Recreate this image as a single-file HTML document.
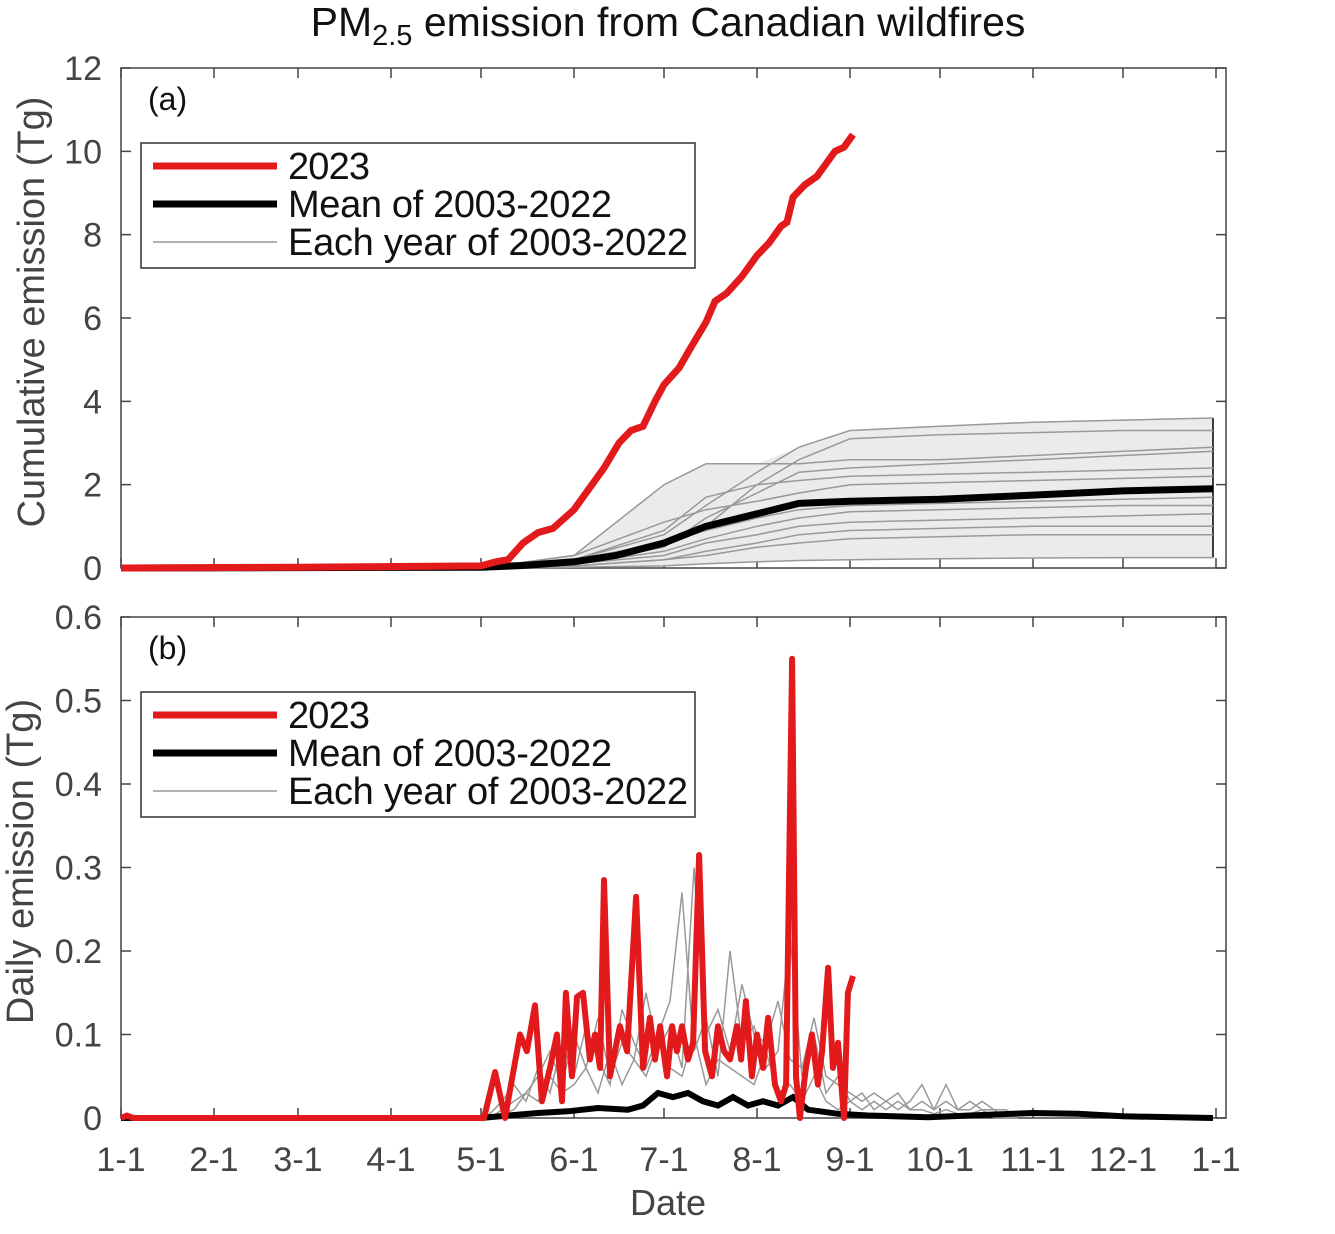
<!DOCTYPE html>
<html><head><meta charset="utf-8"><style>
body{margin:0;background:#fff;}
svg text{font-family:"Liberation Sans",Arial,sans-serif;}
</style></head><body>
<svg id="chart" width="1335" height="1229" viewBox="0 0 1335 1229" xmlns="http://www.w3.org/2000/svg">
<text x="668" y="36" text-anchor="middle" font-size="41" fill="#111">PM<tspan font-size="29" dy="9">2.5</tspan><tspan dy="-9"> emission from Canadian wildfires</tspan></text>
<g id="pa"></g>
<g id="pb"></g>
<text x="668" y="1215" text-anchor="middle" font-size="36" fill="#444">Date</text>
</svg>
<script>
const monthLabels=["1-1","2-1","3-1","4-1","5-1","6-1","7-1","8-1","9-1","10-1","11-1","12-1","1-1"];
const monthDays=[1,32,60,91,121,152,182,213,244,274,305,335,366];
const cumTicks=[0,2,4,6,8,10,12];
const dailyTicks=[0,0.1,0.2,0.3,0.4,0.5,0.6];
const dailyTickLabels=["0","0.1","0.2","0.3","0.4","0.5","0.6"];
const red23Days=[1,60,121,126,130,135,140,145,152,157,162,167,171,175,179,182,187,191,196,199,203,208,213,217,221,223,225,229,233,236,239,242,245];
const red23Cum=[0,0.02,0.05,0.15,0.2,0.6,0.85,0.95,1.4,1.9,2.4,3.0,3.3,3.4,4.0,4.4,4.8,5.3,5.9,6.4,6.6,7.0,7.5,7.8,8.2,8.3,8.9,9.2,9.4,9.7,10.0,10.1,10.4];
const meanDays=[1,121,135,152,166,182,196,213,227,244,274,305,335,365];
const meanCum=[0,0.02,0.06,0.15,0.3,0.6,1.0,1.3,1.55,1.6,1.65,1.75,1.85,1.9];
const yearDays=[1,121,152,182,196,213,227,244,274,305,335,365];
const yearCum=[
[0,0,0.2,0.8,1.5,2.3,2.9,3.3,3.4,3.5,3.55,3.6],
[0,0,0.3,2.0,2.5,2.5,2.5,2.6,2.6,2.7,2.8,2.9],
[0,0,0.2,0.6,1.0,2.0,2.6,3.1,3.2,3.25,3.3,3.3],
[0,0,0.1,0.5,1.2,1.8,2.3,2.4,2.5,2.6,2.7,2.8],
[0,0,0.2,0.9,1.7,2.0,2.1,2.2,2.25,2.3,2.35,2.4],
[0,0,0.3,1.1,1.4,1.6,1.8,2.0,2.05,2.1,2.15,2.2],
[0,0,0.1,0.6,0.9,1.2,1.4,1.5,1.55,1.6,1.65,1.7],
[0,0,0.1,0.4,0.7,1.0,1.2,1.35,1.4,1.45,1.5,1.5],
[0,0,0.1,0.3,0.6,0.8,1.0,1.1,1.15,1.2,1.25,1.3],
[0,0,0.05,0.2,0.4,0.6,0.8,0.9,0.95,1.0,1.0,1.0],
[0,0,0.05,0.2,0.3,0.5,0.6,0.7,0.75,0.8,0.8,0.8],
[0,0,0.02,0.05,0.1,0.15,0.18,0.2,0.22,0.24,0.25,0.25]];
const red23DailyDays=[1,3,5,120,122,125.7,129,134,136.3,139,141.3,144,146.3,148,149.3,151.3,153,155,157.3,159,160.7,162,164,167.3,169.7,172.7,175,177.3,179,180.7,183,184.7,186.3,188,190,191.7,193.7,195.7,198,200,202,204,206.3,207.7,209.3,211.3,213,215,216.7,219,221,222.7,224.7,226,227.3,229.3,231.3,233.3,234.7,236.7,238.3,240,242,243.3,245];
const red23Daily=[0,0.003,0,0,0,0.055,0,0.1,0.08,0.135,0.02,0.06,0.1,0.02,0.15,0.05,0.145,0.15,0.07,0.1,0.06,0.285,0.05,0.11,0.08,0.265,0.06,0.12,0.07,0.11,0.05,0.11,0.08,0.11,0.07,0.09,0.315,0.08,0.05,0.11,0.08,0.07,0.11,0.07,0.14,0.05,0.1,0.06,0.12,0.04,0.02,0.04,0.55,0.05,0,0.06,0.1,0.04,0.08,0.18,0.06,0.09,0,0.15,0.17];
const meanDailyDays=[1,121,130,140,150,160,170,175,180,185,190,195,200,205,210,215,220,225,230,240,250,270,290,305,320,335,365];
const meanDaily=[0,0,0.003,0.006,0.008,0.012,0.01,0.015,0.03,0.025,0.03,0.02,0.015,0.025,0.015,0.02,0.015,0.025,0.01,0.005,0.003,0.001,0.004,0.006,0.005,0.002,0];
const grayDailyDays=[120,124,128,132,136,140,144,148,152,156,160,164,168,172,176,180,184,188,192,196,200,204,208,212,216,220,224,228,232,236,240,244,248,252,256,260,264,268,272,276,280,284,288,292,296,300];
const grayDaily=[
[0,0,.01,.02,.03,.05,.08,.04,.1,.06,.12,.05,.09,.07,.15,.08,.11,.06,.3,.1,.13,.08,.16,.1,.09,.14,.07,.06,.12,.05,.04,.03,.02,.03,.02,.01,.02,.04,.01,.02,.01,.01,.02,.01,.01,0],
[0,.005,.02,.04,.02,.06,.03,.09,.05,.11,.07,.04,.13,.09,.06,.1,.14,.27,.08,.12,.05,.2,.09,.11,.06,.08,.22,.05,.1,.03,.05,.02,.03,.01,.02,.03,.01,.02,.01,.04,.01,.02,.01,.01,0,0],
[0,0,.005,.01,.03,.02,.05,.03,.04,.06,.03,.08,.04,.07,.05,.09,.06,.05,.1,.04,.07,.06,.05,.04,.08,.03,.04,.02,.05,.02,.01,.02,.01,.02,.01,.02,.01,.01,.005,.01,.005,.005,.01,0,0,0]];

const NS="http://www.w3.org/2000/svg";
const X0=121,X1=1226;
const xs=d=>121+(d-1)*3;
function mk(p,tag,at){const e=document.createElementNS(NS,tag);for(const k in at)e.setAttribute(k,at[k]);p.appendChild(e);return e;}
function path(xsA,ysA,sx,sy){return xsA.map((d,i)=>(i?'L':'M')+sx(d).toFixed(1)+','+sy(ysA[i]).toFixed(1)).join('');}

function panel(g,top,bot,ymax,ticks,tickLabels,label,ytitle){
  const ys=v=>bot-(v/ymax)*(bot-top);
  const frame=mk(g,'rect',{x:X0,y:top,width:X1-X0,height:bot-top,fill:'none',stroke:'#444','stroke-width':1.5});
  
  
  monthDays.forEach((d,i)=>{
    const x=xs(d);
    const t=mk(g,'path',{d:`M${x},${bot}V${bot-10}M${x},${top}V${top+10}`,stroke:'#444','stroke-width':1.5});
    
    
    if(label==='(b)'){const tx=mk(g,'text',{x:x,y:bot+53,'text-anchor':'middle','font-size':34,fill:'#444'});tx.textContent=monthLabels[i];
      
      }
  });
  ticks.forEach((v,i)=>{
    const y=ys(v);
    const t=mk(g,'path',{d:`M${X0},${y}H${X0+10}M${X1},${y}H${X1-10}`,stroke:'#444','stroke-width':1.5});
    
    
    const tx=mk(g,'text',{x:X0-19,y:y+12,'text-anchor':'end','font-size':34,fill:'#444'});tx.textContent=tickLabels[i];
    
    
  });
  const pl=mk(g,'text',{x:148,y:top+42,'font-size':32,fill:'#111'});pl.textContent=label;
  
  
  const yt=mk(g,'text',{x:0,y:0,'text-anchor':'middle','font-size':38,fill:'#444',transform:`translate(${label==='(a)'?44:33},${(top+bot)/2-6}) rotate(-90)`});yt.textContent=ytitle;
  
  
  return ys;
}
function legend(g,y){
  const lg=mk(g,'g',{});
  
  
  mk(lg,'rect',{x:141,y:y,width:554,height:125,fill:'#fff',stroke:'#333','stroke-width':1.5});
  const items=[['2023','#e31a1c',7],['Mean of 2003-2022','#000',7],['Each year of 2003-2022','#999',1.5]];
  items.forEach((it,i)=>{
    const cy=y+23+i*38;
    const ln=mk(lg,'line',{x1:153,x2:277,y1:cy,y2:cy,stroke:it[1],'stroke-width':it[2]});
    
    
    const t=mk(lg,'text',{x:288,y:cy+13,'font-size':38,fill:'#111',textLength:i==0?82:(i==1?324:400)});t.textContent=it[0];
    
    
  });
}
const ga=document.getElementById('pa');
const ysA=panel(ga,68,568,12,cumTicks,cumTicks.map(String),'(a)','Cumulative emission (Tg)');
const upper=yearDays.map((d,i)=>Math.max(...yearCum.map(s=>s[i])));
const lower=yearDays.map((d,i)=>Math.min(...yearCum.map(s=>s[i])));
const fillD=path(yearDays,upper,xs,ysA)+yearDays.slice().reverse().map((d,j)=>'L'+xs(d)+','+ysA(lower[yearDays.length-1-j])).join('')+'Z';
const fa=mk(ga,'path',{d:fillD,fill:'#ebebeb',stroke:'none'});


const edge=mk(ga,'line',{x1:xs(365),x2:xs(365),y1:ysA(upper[upper.length-1]),y2:ysA(lower[lower.length-1]),stroke:'#000','stroke-width':1.5});


yearCum.forEach(s=>{const p=mk(ga,'path',{d:path(yearDays,s,xs,ysA),fill:'none',stroke:'#999','stroke-width':1.5});
  
  });
const ma=mk(ga,'path',{d:path(meanDays,meanCum,xs,ysA),fill:'none',stroke:'#000','stroke-width':7});


const ra=mk(ga,'path',{d:path(red23Days,red23Cum,xs,ysA),fill:'none',stroke:'#e31a1c','stroke-width':7});


legend(ga,143);
const gb=document.getElementById('pb');
const ysB=panel(gb,617,1118,0.6,dailyTicks,dailyTickLabels,'(b)','Daily emission (Tg)');
grayDaily.forEach(s=>{const p=mk(gb,'path',{d:path(grayDailyDays,s,xs,ysB),fill:'none',stroke:'#999','stroke-width':1.5});
  
  });
const mb=mk(gb,'path',{d:path(meanDailyDays,meanDaily,xs,ysB),fill:'none',stroke:'#000','stroke-width':6});


const rb=mk(gb,'path',{d:path(red23DailyDays,red23Daily,xs,ysB),fill:'none',stroke:'#e31a1c','stroke-width':6,'stroke-linejoin':'round'});


legend(gb,692);
</script>
</body></html>
